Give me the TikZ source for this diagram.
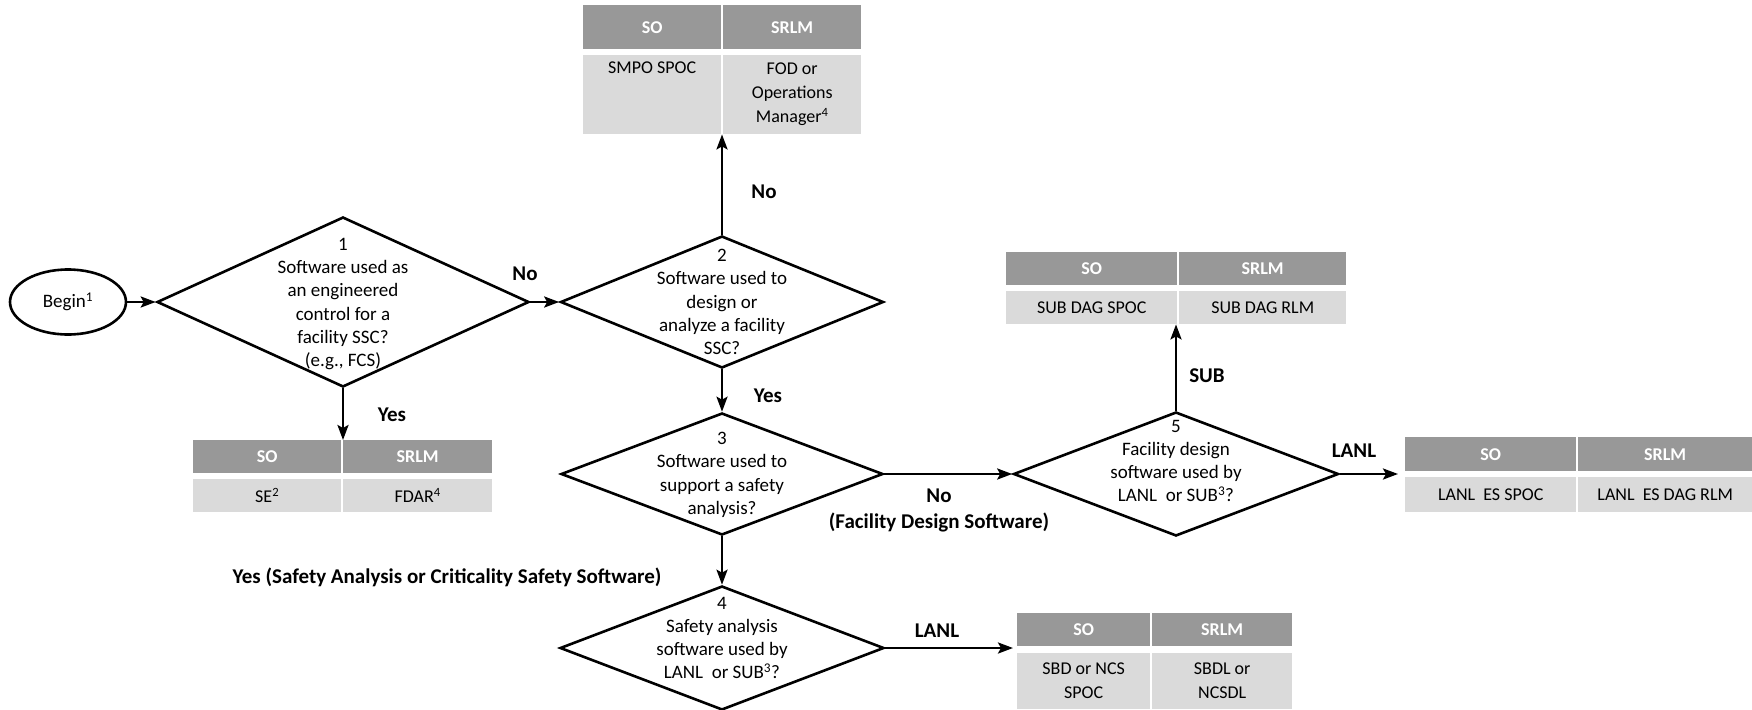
\documentclass[tikz,border=0pt]{standalone}
\usepackage{fontspec}
\setmainfont{Carlito}
\usetikzlibrary{shapes.geometric,arrows.meta}

\definecolor{hdrgray}{RGB}{152,152,152}
\definecolor{cellgray}{RGB}{218,218,218}

\tikzset{
  flow/.style={draw, line width=2.6pt, inner sep=0pt},
  dia/.style={flow, diamond},
  arr/.style={line width=2.6pt, -{Stealth[length=15pt,width=11pt,inset=3pt]}},
  hdr/.style={fill=hdrgray, text=white, anchor=north west, inner sep=0pt,
    font=\fontsize{18}{22}\selectfont\bfseries},
  cell/.style={fill=cellgray, anchor=north west, inner sep=0pt, align=center,
    font=\fontsize{18}{24}\selectfont},
  qtext/.style={align=center, font=\fontsize{19}{23.3}\selectfont},
  lab/.style={align=center, font=\fontsize{21}{26}\selectfont\bfseries}
}

\begin{document}
\begin{tikzpicture}[x=1pt, y=-1pt]
    \useasboundingbox (0,0) rectangle (1752,709);

    % start and decisions
    \node[flow, ellipse, minimum width=116, minimum height=65, font=\fontsize{19}{23}\selectfont] (b) at (68,302) {Begin\textsuperscript{1}};
    \node[dia, minimum width=372, minimum height=170] (d1) at (343,302) {};
    \node[qtext] (q1) at (343,304) {1\\Software used as\\an engineered\\control for a\\facility SSC?\\(e.g., FCS)};
    \node[dia, minimum width=323, minimum height=132] (d2) at (722,302) {};
    \node[qtext] (q2) at (722,302) {2\\Software used to\\design or\\analyze a facility\\SSC?};
    \node[dia, minimum width=322, minimum height=122] (d3) at (722,474) {};
    \node[qtext] (q3) at (722,475) {3\\Software used to\\support a safety\\analysis?};
    \node[dia, minimum width=324, minimum height=124] (d4) at (722,648) {};
    \node[qtext] (q4) at (722,638) {4\\Safety analysis\\software used by\\LANL\ \ or SUB\textsuperscript{3}?};
    \node[dia, minimum width=325, minimum height=124] (d5) at (1176,474) {};
    \node[qtext] (q5) at (1176,461) {5\\Facility design\\software used by\\LANL\ \ or SUB\textsuperscript{3}?};

    % tables
    \node[hdr, minimum width=138, minimum height=44] (soA) at (583,5) {SO};
    \node[hdr, minimum width=138, minimum height=44] (rlA) at (723,5) {SRLM};
    \node[cell, minimum width=138, minimum height=79, label={[cell, anchor=north, fill=none, yshift=-7]north:SMPO SPOC}] (soAb) at (583,55) {};
    \node[cell, minimum width=138, minimum height=79] (rlAb) at (723,55) {FOD or\\Operations\\Manager\textsuperscript{4}};

    \node[hdr, minimum width=148, minimum height=33] (soB) at (193,440) {SO};
    \node[hdr, minimum width=149, minimum height=33] (rlB) at (343,440) {SRLM};
    \node[cell, minimum width=148, minimum height=33] (soBb) at (193,479) {SE\textsuperscript{2}};
    \node[cell, minimum width=149, minimum height=33] (rlBb) at (343,479) {FDAR\textsuperscript{4}};

    \node[hdr, minimum width=171, minimum height=33] (soC) at (1006,252) {SO};
    \node[hdr, minimum width=167, minimum height=33] (rlC) at (1179,252) {SRLM};
    \node[cell, minimum width=171, minimum height=33] (soCb) at (1006,291) {SUB DAG SPOC};
    \node[cell, minimum width=167, minimum height=33] (rlCb) at (1179,291) {SUB DAG RLM};

    \node[hdr, minimum width=171, minimum height=34] (soD) at (1405,437) {SO};
    \node[hdr, minimum width=174, minimum height=34] (rlD) at (1578,437) {SRLM};
    \node[cell, minimum width=171, minimum height=35] (soDb) at (1405,477) {LANL\ \ ES SPOC};
    \node[cell, minimum width=174, minimum height=35] (rlDb) at (1578,477) {LANL\ \ ES DAG RLM};

    \node[hdr, minimum width=133, minimum height=33] (soE) at (1017,613) {SO};
    \node[hdr, minimum width=140, minimum height=33] (rlE) at (1152,613) {SRLM};
    \node[cell, minimum width=133, minimum height=56] (soEb) at (1017,653) {SBD or NCS\\SPOC};
    \node[cell, minimum width=140, minimum height=56] (rlEb) at (1152,653) {SBDL or\\NCSDL};

    % connectors
    \draw[arr] (b) -- (d1);
    \draw[arr] (d1) -- (d2);
    \draw[arr] (d1.south) -- (d1.south |- soB.north);
    \draw[arr] (d2.north) -- (d2.north |- soAb.south);
    \draw[arr] (d2) -- (d3);
    \draw[arr] (d3) -- (d5);
    \draw[arr] (d3) -- (d4);
    \draw[arr] (d5.north) -- (d5.north |- soCb.south);
    \draw[arr, shorten >=7pt] (d5.east) -- (d5.east -| soD.west);
    \draw[arr, shorten >=4pt] (d4.east) -- (d4.east -| soE.west);

    % branch labels
    \node[lab] (no1) at (525,274) {No};
    \node[lab] (yes1) at (392,415) {Yes};
    \node[lab] (no2) at (764,192) {No};
    \node[lab] (yes2) at (768,396) {Yes};
    \node[lab] (no3) at (939,510) {No\\(Facility Design Software)};
    \node[lab] (yes3) at (447,577) {Yes (Safety Analysis or Criticality Safety Software)};
    \node[lab] (sub5) at (1207,376) {SUB};
    \node[lab] (lanl5) at (1354,451) {LANL};
    \node[lab] (lanl4) at (937,631) {LANL};
\end{tikzpicture}
\end{document}
